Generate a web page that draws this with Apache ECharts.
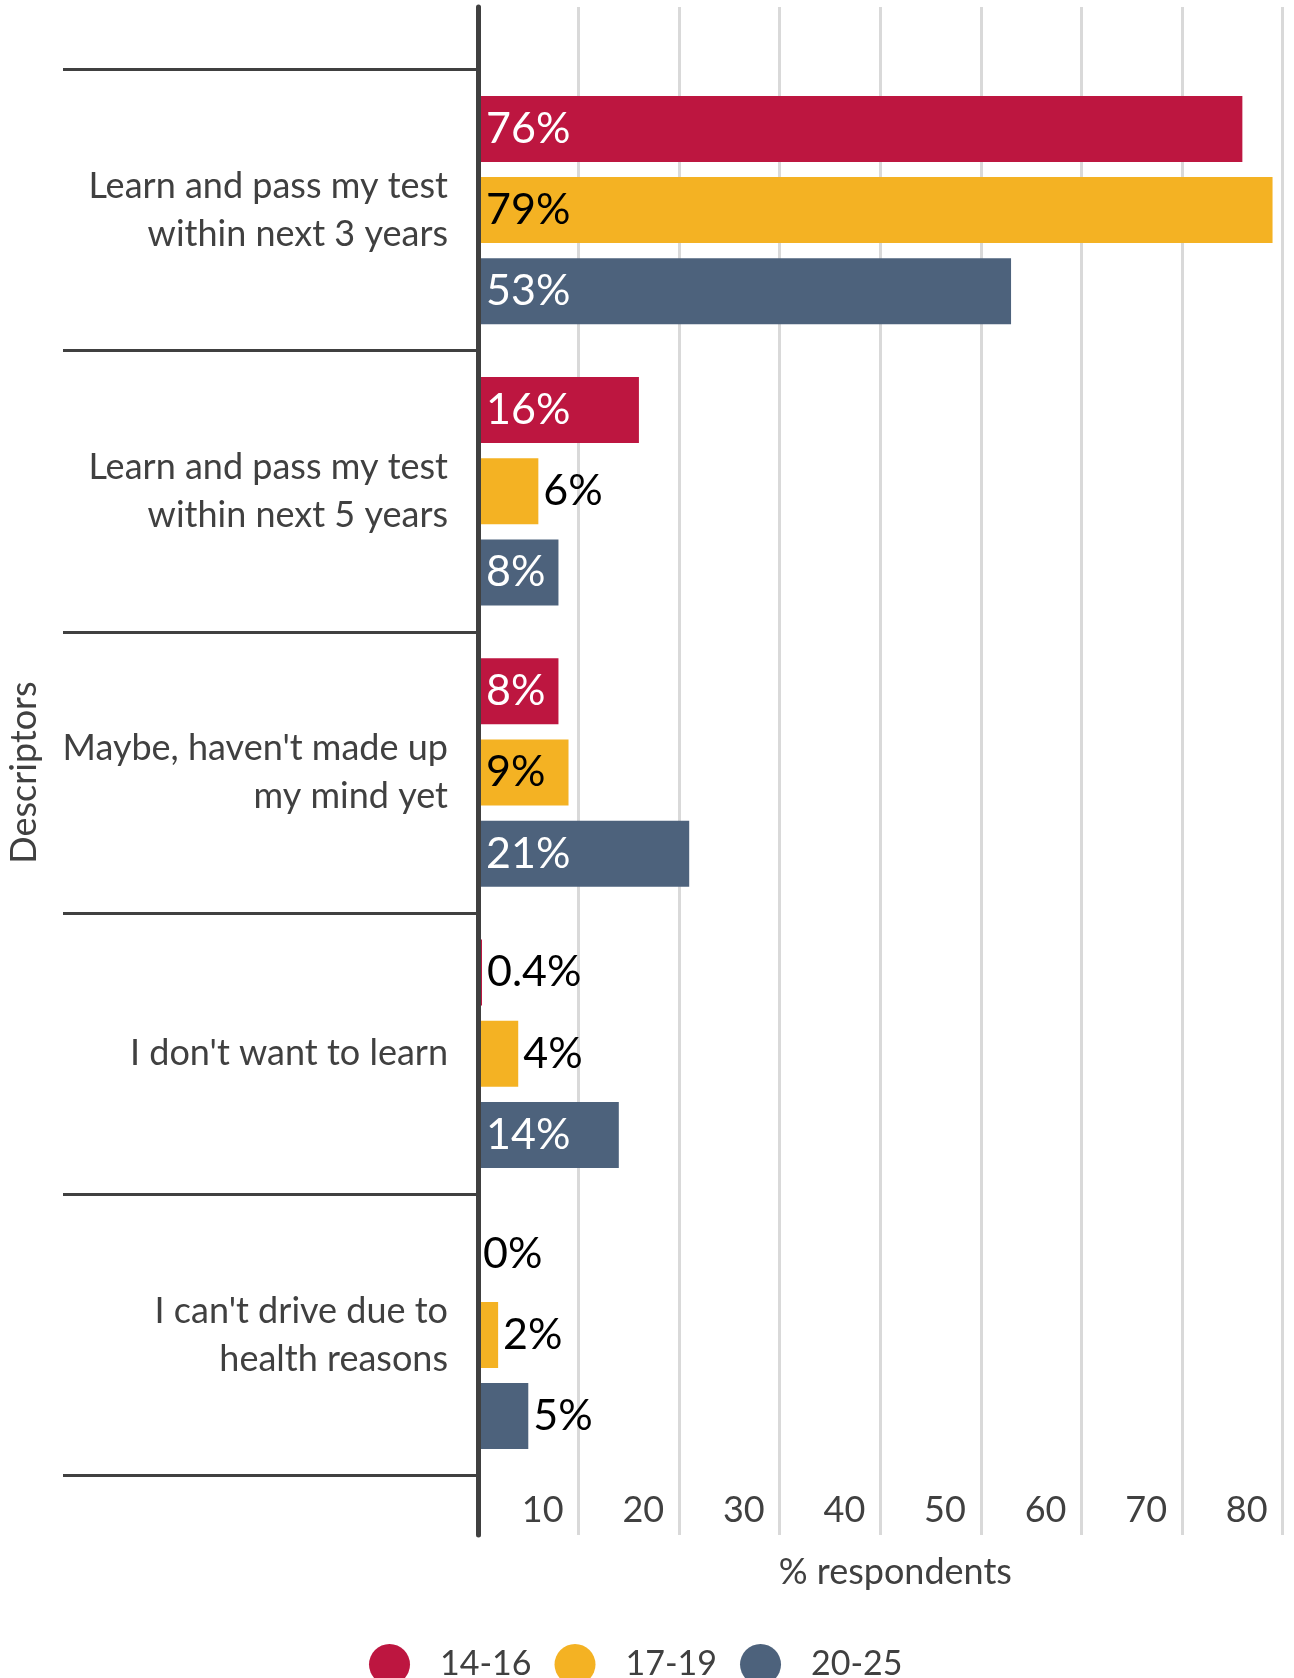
<!DOCTYPE html>
<html>
<head>
<meta charset="utf-8">
<script src="https://cdn.jsdelivr.net/npm/echarts@6/dist/echarts.min.js"></script>
<style>
  html, body { margin: 0; padding: 0; background: #ffffff; }
  #chart { width: 1294px; height: 1678px; }
</style>
</head>
<body>
<div id="chart"></div>
<script>
// Survey answers, top to bottom
const categories = [
  'Learn and pass my test\nwithin next 3 years',
  'Learn and pass my test\nwithin next 5 years',
  "Maybe, haven't made up\nmy mind yet",
  "I don't want to learn",
  "I can't drive due to\nhealth reasons"
];

// Age groups
const groupNames = ['14-16', '17-19', '20-25'];

// Share of respondents (%) per age group, same order as categories
const values1416 = [76, 16, 8, 0.4, 0];
const values1719 = [79, 6, 9, 4, 2];
const values2025 = [53, 8, 21, 14, 5];

// Labelled ticks on the % axis
const xTickLabels = [10, 20, 30, 40, 50, 60, 70, 80];

const groupColors = ['#BD1640', '#F4B223', '#4D627C'];
const insideTextColors = ['#ffffff', '#000000', '#ffffff'];
const FONT = 'Lato';
const INK = '#404040';
const INSIDE_MIN = 8; // bars at least this long carry their label inside

function makeSeries(name, values, idx) {
  return {
    name: name,
    type: 'bar',
    xAxisIndex: 1,
    yAxisIndex: 1,
    barWidth: 66,
    barGap: '23%',
    itemStyle: { color: groupColors[idx] },
    data: values.map(function (v) {
      const inside = v >= INSIDE_MIN;
      return {
        value: v,
        label: {
          show: true,
          position: inside ? 'insideLeft' : 'right',
          distance: inside ? 8 : 5,
          color: inside ? insideTextColors[idx] : '#000000',
          fontFamily: FONT,
          fontSize: 43,
          formatter: function (p) { return p.value + '%'; }
        }
      };
    })
  };
}

const chart = echarts.init(document.getElementById('chart'), null, { renderer: 'canvas' });

chart.setOption({
  backgroundColor: '#ffffff',
  animation: false,
  grid: [
    // frame: vertical grid lines, % axis and the dark baseline
    { left: 478, right: 11.4, top: 7, bottom: 143, outerBoundsMode: 'none' },
    // bars and category separators
    { left: 478, right: 11.4, top: 69.5, bottom: 202.5, outerBoundsMode: 'none' }
  ],
  xAxis: [
    {
      gridIndex: 0,
      type: 'value',
      min: 0,
      max: 80,
      interval: 10,
      axisLine: { show: false },
      axisTick: { show: false },
      splitLine: { show: true, lineStyle: { color: '#d9d9d9', width: 3 } },
      axisLabel: {
        margin: -25,
        verticalAlign: 'middle',
        align: 'right',
        padding: [0, 15, 0, 0],
        fontFamily: FONT,
        fontSize: 36,
        color: INK,
        formatter: function (v) { return xTickLabels.indexOf(v) >= 0 ? String(v) : ''; }
      },
      name: '% respondents',
      nameLocation: 'middle',
      nameGap: 37,
      nameMoveOverlap: false,
      nameTextStyle: {
        fontFamily: FONT,
        fontSize: 36,
        color: INK,
        verticalAlign: 'middle',
        padding: [0, 0, 0, 30]
      }
    },
    {
      gridIndex: 1,
      type: 'value',
      min: 0,
      max: 80,
      show: false
    }
  ],
  yAxis: [
    {
      gridIndex: 0,
      type: 'value',
      z: 5,
      offset: 2,
      axisLine: { show: true, lineStyle: { color: INK, width: 5 } },
      axisTick: { show: false },
      axisLabel: { show: false },
      splitLine: { show: false }
    },
    {
      gridIndex: 1,
      type: 'category',
      inverse: true,
      data: categories,
      boundaryGap: true,
      axisLine: { show: false },
      axisTick: { show: true, length: 415, lineStyle: { color: INK, width: 3 } },
      axisLabel: {
        margin: 30,
        align: 'right',
        fontFamily: FONT,
        fontSize: 36,
        lineHeight: 48,
        color: INK
      },
      name: 'Descriptors',
      nameLocation: 'middle',
      nameGap: 454,
      nameMoveOverlap: false,
      nameTextStyle: {
        fontFamily: FONT,
        fontSize: 36,
        color: INK,
        verticalAlign: 'middle'
      }
    }
  ],
  legend: {
    data: groupNames,
    icon: 'circle',
    left: 364,
    top: 1639,
    itemWidth: 41,
    itemHeight: 41,
    itemGap: 23,
    textStyle: {
      fontFamily: FONT,
      fontSize: 34,
      color: INK,
      padding: [0, 0, 0, 25]
    }
  },
  series: [
    makeSeries(groupNames[0], values1416, 0),
    makeSeries(groupNames[1], values1719, 1),
    makeSeries(groupNames[2], values2025, 2)
  ]
});
</script>
</body>
</html>
